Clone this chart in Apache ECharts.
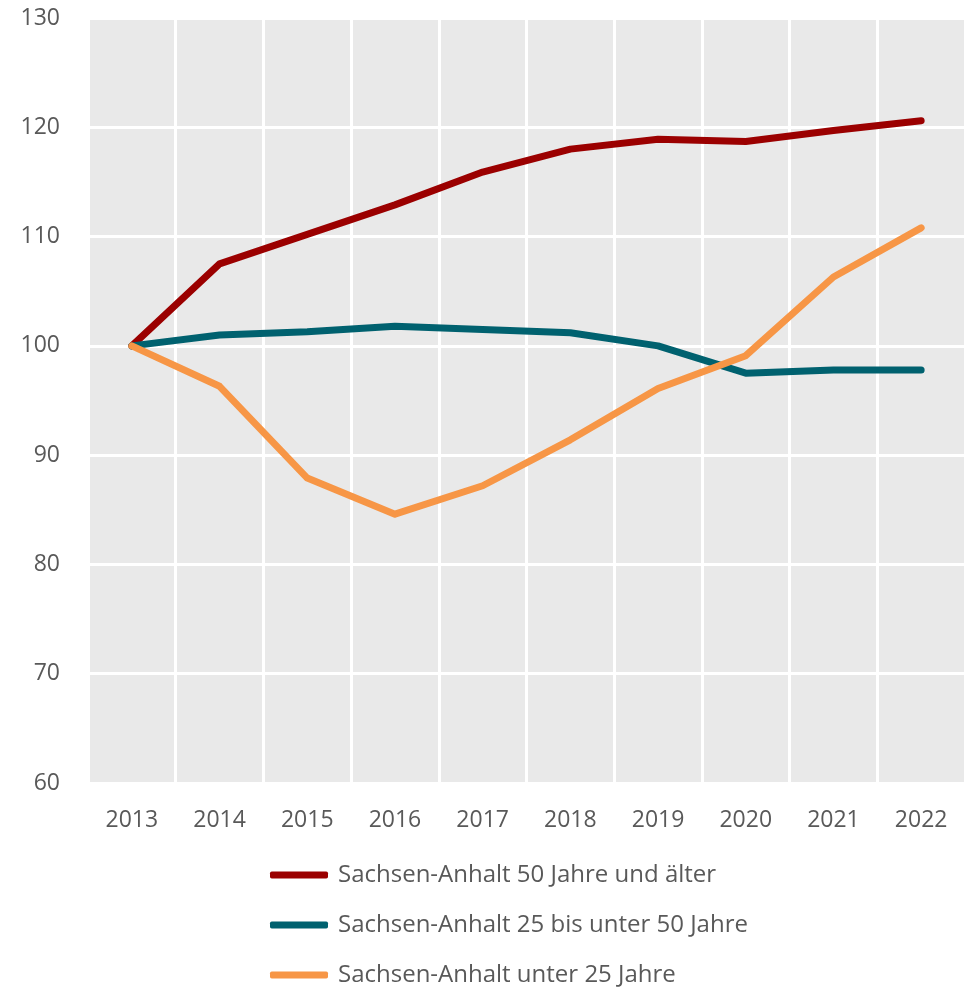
<!DOCTYPE html>
<html lang="de">
<head>
    <meta charset="UTF-8">
    <title>Sachsen-Anhalt Altersgruppen</title>
    <script type="text/javascript" src="https://cdn.jsdelivr.net/npm/echarts@6/dist/echarts.min.js"></script>
    <style>
        html, body { margin: 0; padding: 0; background: #fff; }
    </style>
</head>
<body>
<div id="chart" style="width:975px; height:987px;"></div>
<script>
    var years = ['2013', '2014', '2015', '2016', '2017', '2018', '2019', '2020', '2021', '2022'];
    var ab50 = [100, 107.5, 110.2, 112.9, 115.9, 118.0, 118.9, 118.7, 119.7, 120.6];
    var von25bis50 = [100, 101.0, 101.3, 101.8, 101.5, 101.2, 100.0, 97.5, 97.8, 97.8];
    var unter25 = [100, 96.3, 87.9, 84.6, 87.2, 91.4, 96.1, 99.1, 106.3, 110.8];
    var names = ['Sachsen-Anhalt 50 Jahre und älter', 'Sachsen-Anhalt 25 bis unter 50 Jahre', 'Sachsen-Anhalt unter 25 Jahre'];
    var colors = ['#9b0000', '#00616f', '#f79646'];

    var chart = echarts.init(document.getElementById('chart'));

    function line(name, data, color) {
        return {
            name: name,
            type: 'line',
            data: data,
            symbol: 'none',
            color: color,
            lineStyle: { width: 7, color: color, cap: 'round', join: 'round' }
        };
    }

    var option = {
        animation: false,
        textStyle: { fontFamily: 'Open Sans', color: '#595959' },
        grid: {
            left: 88, right: 10, top: 18, bottom: 204,
            show: true, backgroundColor: '#e9e9e9', borderWidth: 0
        },
        xAxis: {
            type: 'category',
            data: years,
            boundaryGap: true,
            axisLine: { show: false },
            axisTick: { show: false },
            axisLabel: { fontSize: 23, color: '#595959', margin: 26 },
            splitLine: { show: true, lineStyle: { color: '#ffffff', width: 3 } }
        },
        yAxis: {
            type: 'value',
            min: 60, max: 130, interval: 10,
            axisLine: { show: false },
            axisTick: { show: false },
            axisLabel: { fontSize: 23, color: '#595959', margin: 28 },
            splitLine: { show: true, lineStyle: { color: '#ffffff', width: 3 } }
        },
        legend: {
            orient: 'vertical',
            left: 270, top: 861,
            height: 200,
            padding: 0,
            itemWidth: 58, itemHeight: 7,
            itemGap: 22,
            icon: 'roundRect',
            textStyle: { fontSize: 24, lineHeight: 28, color: '#595959', padding: [0, 0, 0, 5] },
            data: names
        },
        series: [
            line(names[0], ab50, colors[0]),
            line(names[1], von25bis50, colors[1]),
            line(names[2], unter25, colors[2])
        ]
    };
    chart.setOption(option);
</script>
</body>
</html>
